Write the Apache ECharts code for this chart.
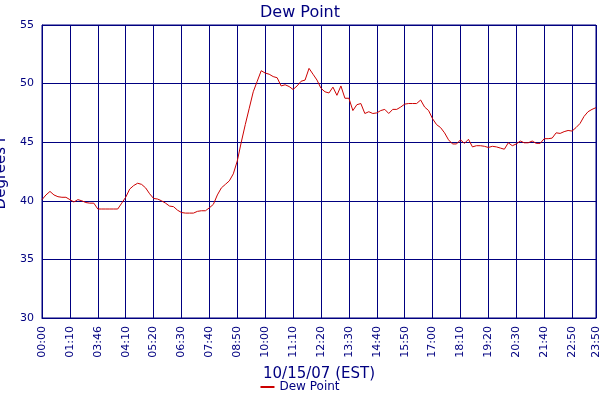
<!DOCTYPE html>
<html>
<head>
<meta charset="utf-8">
<script src="https://cdn.jsdelivr.net/npm/echarts@6/dist/echarts.min.js"></script>
<style>html,body{margin:0;padding:0;background:#fff}#chart{width:600px;height:400px}</style>
</head>
<body>
<div id="chart"></div>
<script>
// tick labels sit every 7 readings, last one after 6
var tickLabels = ['00:00','01:10','03:46','04:10','05:20','06:30','07:40','08:50','10:00','11:10',
	'12:20','13:30','14:40','15:50','17:00','18:10','19:20','20:30','21:40','22:50','23:50'];
var tickIndex = [0,7,14,21,28,35,42,49,56,63,70,77,84,91,98,105,112,119,126,133,139];

var dewPoint = [
	40.1,40.5,40.8,40.5,40.35,40.3,40.3,40.1,39.9,40.1,
	40.0,39.85,39.8,39.8,39.3,39.3,39.3,39.3,39.3,39.3,
	39.8,40.3,41.0,41.3,41.5,41.4,41.1,40.6,40.2,40.15,
	40.0,39.8,39.55,39.5,39.2,39.0,38.95,38.95,38.95,39.1,
	39.15,39.15,39.4,39.7,40.5,41.1,41.4,41.7,42.3,43.4,
	45.0,46.5,47.9,49.3,50.2,51.1,50.9,50.8,50.6,50.5,
	49.8,49.9,49.75,49.5,49.8,50.2,50.3,51.3,50.8,50.3,
	49.6,49.3,49.2,49.7,49.0,49.8,48.75,48.75,47.7,48.2,
	48.3,47.45,47.6,47.45,47.5,47.7,47.8,47.45,47.8,47.8,
	48.0,48.25,48.3,48.3,48.3,48.6,48.0,47.7,47.0,46.5,
	46.25,45.8,45.2,44.85,44.85,45.2,44.9,45.25,44.6,44.7,
	44.7,44.65,44.55,44.65,44.6,44.5,44.4,44.95,44.7,44.85,
	45.1,44.95,44.95,45.1,44.9,44.9,45.3,45.3,45.35,45.8,
	45.75,45.9,46.0,45.95,46.25,46.6,47.2,47.6,47.8,47.95
];

var categories = dewPoint.map(function (v, i) {
	var k = tickIndex.indexOf(i);
	return k >= 0 ? tickLabels[k] : '';
});
var isTick = function (i) { return tickIndex.indexOf(i) >= 0; };

var navy = '#000080';
var chart = echarts.init(document.getElementById('chart'));
chart.setOption({
	animation: false,
	textStyle: { fontFamily: 'DejaVu Sans' },
	title: {
		text: 'Dew Point',
		left: 'center',
		top: 0,
		textStyle: { color: navy, fontSize: 16, fontWeight: 'normal' }
	},
	legend: {
		bottom: 2,
		left: 'center',
		itemWidth: 14,
		itemHeight: 2,
		icon: 'rect',
		textStyle: { color: navy, fontSize: 12 },
		data: ['Dew Point']
	},
	grid: {
		left: 42, right: 4, top: 25, bottom: 82,
		outerBoundsMode: 'none',
		containLabel: false,
		show: true, borderColor: navy, borderWidth: 1
	},
	xAxis: {
		type: 'category',
		data: categories,
		boundaryGap: false,
		name: '10/15/07 (EST)',
		nameLocation: 'middle',
		nameGap: 49,
		nameTextStyle: { color: navy, fontSize: 15 },
		axisLine: { lineStyle: { color: navy } },
		axisTick: { show: false },
		axisLabel: {
			interval: function (i) { return isTick(i); },
			rotate: 90, color: navy, fontSize: 11
		},
		splitLine: {
			show: true,
			interval: function (i) { return isTick(i); },
			lineStyle: { color: navy, width: 1 }
		}
	},
	yAxis: {
		type: 'value',
		min: 30, max: 55, interval: 5,
		name: 'Degrees F',
		nameLocation: 'middle',
		nameGap: 28,
		nameTextStyle: { color: navy, fontSize: 15 },
		axisLine: { show: true, lineStyle: { color: navy } },
		axisTick: { show: false },
		axisLabel: { color: navy, fontSize: 11 },
		splitLine: { lineStyle: { color: navy, width: 1 } }
	},
	series: [{
		name: 'Dew Point',
		type: 'line',
		data: dewPoint,
		symbol: 'none',
		color: '#cc0000',
		lineStyle: { width: 1, color: '#cc0000' }
	}]
});
</script>
</body>
</html>
